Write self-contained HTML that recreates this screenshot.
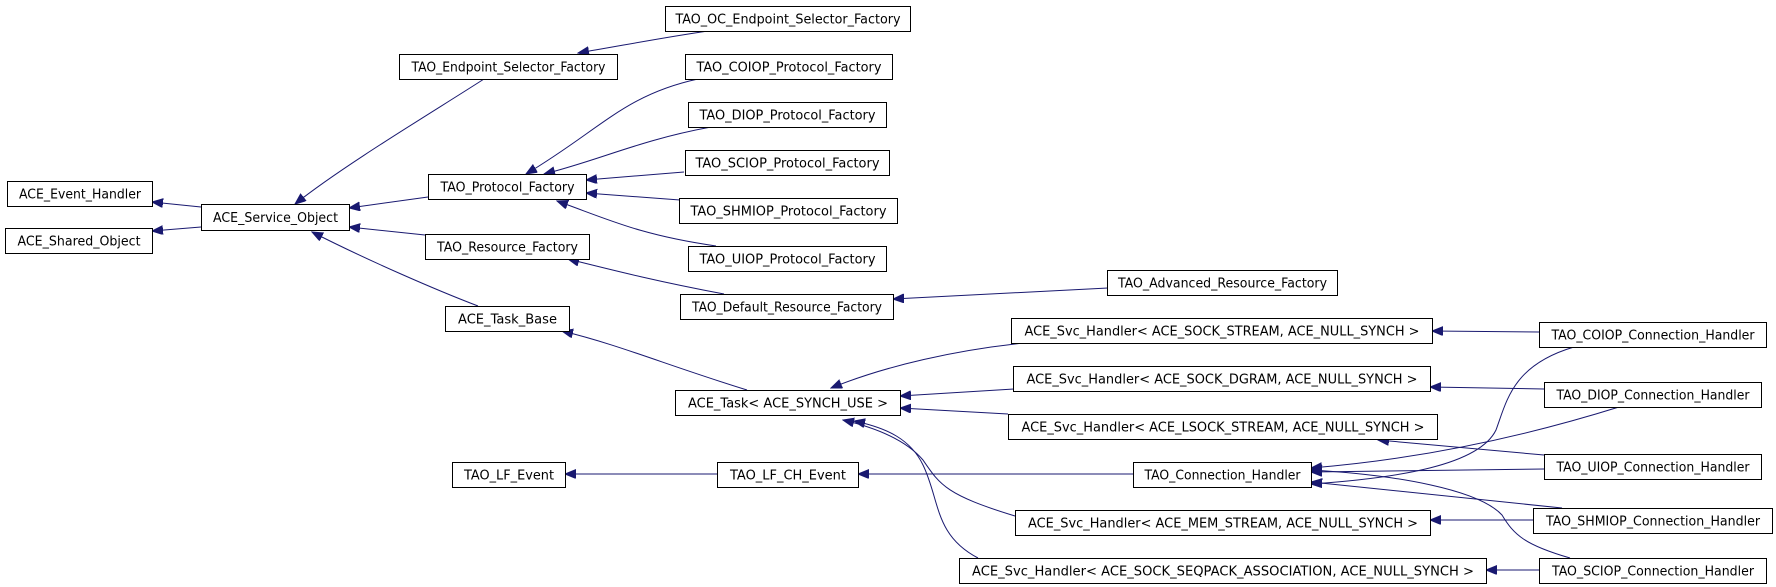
<!DOCTYPE html>
<html><head><meta charset="utf-8"><style>
html,body{margin:0;padding:0;background:#fff;}
svg{display:block;}
text{font-family:"DejaVu Sans","Liberation Sans",sans-serif;font-size:13px;fill:#000;}
rect{fill:#fff;stroke:#000;stroke-width:1;}
path{fill:none;stroke:#191970;stroke-width:1;}
</style></head><body>
<svg width="1776" height="587" viewBox="0 0 1776 587" xmlns="http://www.w3.org/2000/svg">
<defs>
<marker id="a" markerUnits="userSpaceOnUse" markerWidth="12" markerHeight="10" refX="11" refY="4.5" orient="auto">
<path d="M0,0 L11,4.5 L0,9 Z" style="fill:#191970;stroke:#191970"/>
</marker>
</defs>
<g marker-end="url(#a)">
<path d="M201,207 L152,202"/>
<path d="M201,227 L152,231"/>
<path d="M484,79 C436,110 344,165 295,204"/>
<path d="M428,197 L349,208"/>
<path d="M425,235 L349,227"/>
<path d="M478,306 C436,290 367,260 312,232"/>
<path d="M708,31 C660,38 620,46 578,53"/>
<path d="M698,79 C624,95 600,130 526,174"/>
<path d="M711,127 C640,140 600,160 544,174"/>
<path d="M684,172 L586,180"/>
<path d="M680,200 L586,193"/>
<path d="M716,246 C640,235 610,220 557,201"/>
<path d="M724,294 C660,282 620,272 568,259"/>
<path d="M1108,288 L893,299"/>
<path d="M747,390 C666,365 620,345 562,331"/>
<path d="M1024,343 C957,350 888,365 831,388"/>
<path d="M1014,389 L900,396"/>
<path d="M1008,414 L900,408"/>
<path d="M1015,516 C946,495 940,485 923,460 C906,440 877,428 843,420"/>
<path d="M978,558 C934,535 940,500 923,465 C911,440 888,428 854,421"/>
<path d="M717,474 L565,474"/>
<path d="M1133,474 L858,474"/>
<path d="M1539,332 L1432,331"/>
<path d="M1544,389 L1430,387"/>
<path d="M1544,455 L1378,440"/>
<path d="M1533,520 L1430,520"/>
<path d="M1539,570 L1486,570"/>
<path d="M1574,347 C1513,365 1507,400 1496,430 C1479,465 1399,478 1311,484"/>
<path d="M1619,407 C1513,440 1410,460 1311,468"/>
<path d="M1544,469 L1311,472"/>
<path d="M1562,508 L1311,482"/>
<path d="M1570,558 C1525,545 1514,535 1502,515 C1479,490 1399,475 1311,470"/>
</g>
<g>
<rect x="665.5" y="6.5" width="245" height="25"/><text x="788" y="23.5" text-anchor="middle" textLength="225" lengthAdjust="spacingAndGlyphs">TAO_OC_Endpoint_Selector_Factory</text>
<rect x="399.5" y="54.5" width="218" height="25"/><text x="508.5" y="71.5" text-anchor="middle" textLength="194" lengthAdjust="spacingAndGlyphs">TAO_Endpoint_Selector_Factory</text>
<rect x="685.5" y="54.5" width="207" height="25"/><text x="789" y="71.5" text-anchor="middle" textLength="185" lengthAdjust="spacingAndGlyphs">TAO_COIOP_Protocol_Factory</text>
<rect x="688.5" y="102.5" width="198" height="25"/><text x="787.5" y="119.5" text-anchor="middle" textLength="176" lengthAdjust="spacingAndGlyphs">TAO_DIOP_Protocol_Factory</text>
<rect x="685.5" y="150.5" width="204" height="25"/><text x="787.5" y="167.5" text-anchor="middle" textLength="184" lengthAdjust="spacingAndGlyphs">TAO_SCIOP_Protocol_Factory</text>
<rect x="679.5" y="198.5" width="218" height="25"/><text x="788.5" y="215.5" text-anchor="middle" textLength="196" lengthAdjust="spacingAndGlyphs">TAO_SHMIOP_Protocol_Factory</text>
<rect x="688.5" y="246.5" width="198" height="25"/><text x="787.5" y="263.5" text-anchor="middle" textLength="176" lengthAdjust="spacingAndGlyphs">TAO_UIOP_Protocol_Factory</text>
<rect x="7.5" y="181.5" width="145" height="25"/><text x="80" y="198.5" text-anchor="middle" textLength="122" lengthAdjust="spacingAndGlyphs">ACE_Event_Handler</text>
<rect x="5.5" y="228.5" width="147" height="25"/><text x="79" y="245.5" text-anchor="middle" textLength="123" lengthAdjust="spacingAndGlyphs">ACE_Shared_Object</text>
<rect x="201.5" y="204.5" width="148" height="26"/><text x="275.5" y="222" text-anchor="middle" textLength="125" lengthAdjust="spacingAndGlyphs">ACE_Service_Object</text>
<rect x="428.5" y="174.5" width="158" height="25"/><text x="507.5" y="191.5" text-anchor="middle" textLength="134" lengthAdjust="spacingAndGlyphs">TAO_Protocol_Factory</text>
<rect x="425.5" y="234.5" width="164" height="25"/><text x="507.5" y="251.5" text-anchor="middle" textLength="141" lengthAdjust="spacingAndGlyphs">TAO_Resource_Factory</text>
<rect x="1107.5" y="270.5" width="230" height="25"/><text x="1222.5" y="287.5" text-anchor="middle" textLength="209" lengthAdjust="spacingAndGlyphs">TAO_Advanced_Resource_Factory</text>
<rect x="680.5" y="294.5" width="213" height="25"/><text x="787" y="311.5" text-anchor="middle" textLength="190" lengthAdjust="spacingAndGlyphs">TAO_Default_Resource_Factory</text>
<rect x="445.5" y="306.5" width="124" height="25"/><text x="507.5" y="323.5" text-anchor="middle" textLength="99" lengthAdjust="spacingAndGlyphs">ACE_Task_Base</text>
<rect x="675.5" y="390.5" width="225" height="25"/><text x="788" y="407.5" text-anchor="middle" textLength="200" lengthAdjust="spacingAndGlyphs">ACE_Task&lt; ACE_SYNCH_USE &gt;</text>
<rect x="452.5" y="462.5" width="113" height="25"/><text x="509" y="479.5" text-anchor="middle" textLength="90" lengthAdjust="spacingAndGlyphs">TAO_LF_Event</text>
<rect x="717.5" y="462.5" width="141" height="25"/><text x="788" y="479.5" text-anchor="middle" textLength="116" lengthAdjust="spacingAndGlyphs">TAO_LF_CH_Event</text>
<rect x="1011.5" y="318.5" width="421" height="25"/><text x="1222" y="335.5" text-anchor="middle" textLength="395" lengthAdjust="spacingAndGlyphs">ACE_Svc_Handler&lt; ACE_SOCK_STREAM, ACE_NULL_SYNCH &gt;</text>
<rect x="1013.5" y="366.5" width="417" height="25"/><text x="1222" y="383.5" text-anchor="middle" textLength="391" lengthAdjust="spacingAndGlyphs">ACE_Svc_Handler&lt; ACE_SOCK_DGRAM, ACE_NULL_SYNCH &gt;</text>
<rect x="1008.5" y="414.5" width="429" height="25"/><text x="1223" y="431.5" text-anchor="middle" textLength="403" lengthAdjust="spacingAndGlyphs">ACE_Svc_Handler&lt; ACE_LSOCK_STREAM, ACE_NULL_SYNCH &gt;</text>
<rect x="1133.5" y="462.5" width="178" height="25"/><text x="1222.5" y="479.5" text-anchor="middle" textLength="156" lengthAdjust="spacingAndGlyphs">TAO_Connection_Handler</text>
<rect x="1015.5" y="510.5" width="415" height="25"/><text x="1223" y="527.5" text-anchor="middle" textLength="390" lengthAdjust="spacingAndGlyphs">ACE_Svc_Handler&lt; ACE_MEM_STREAM, ACE_NULL_SYNCH &gt;</text>
<rect x="959.5" y="558.5" width="527" height="25"/><text x="1223" y="575.5" text-anchor="middle" textLength="502" lengthAdjust="spacingAndGlyphs">ACE_Svc_Handler&lt; ACE_SOCK_SEQPACK_ASSOCIATION, ACE_NULL_SYNCH &gt;</text>
<rect x="1539.5" y="322.5" width="227" height="25"/><text x="1653" y="339.5" text-anchor="middle" textLength="203" lengthAdjust="spacingAndGlyphs">TAO_COIOP_Connection_Handler</text>
<rect x="1544.5" y="382.5" width="217" height="25"/><text x="1653" y="399.5" text-anchor="middle" textLength="193" lengthAdjust="spacingAndGlyphs">TAO_DIOP_Connection_Handler</text>
<rect x="1544.5" y="454.5" width="217" height="25"/><text x="1653" y="471.5" text-anchor="middle" textLength="193" lengthAdjust="spacingAndGlyphs">TAO_UIOP_Connection_Handler</text>
<rect x="1533.5" y="508.5" width="239" height="25"/><text x="1653" y="525.5" text-anchor="middle" textLength="214" lengthAdjust="spacingAndGlyphs">TAO_SHMIOP_Connection_Handler</text>
<rect x="1539.5" y="558.5" width="227" height="25"/><text x="1653" y="575.5" text-anchor="middle" textLength="202" lengthAdjust="spacingAndGlyphs">TAO_SCIOP_Connection_Handler</text>
</g>
</svg>
</body></html>
